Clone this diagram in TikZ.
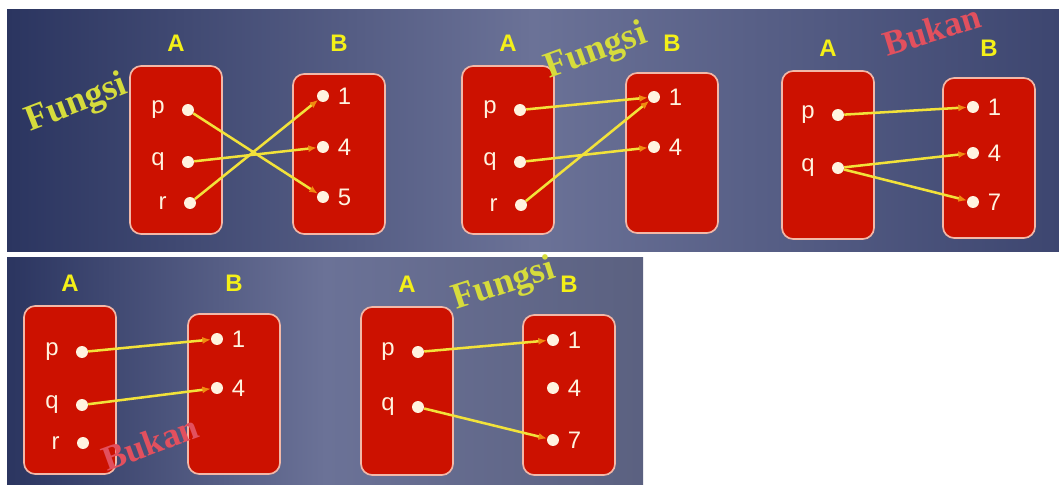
\documentclass[tikz,border=0pt]{standalone}
\usepackage{fontspec}
\setmainfont{Liberation Serif}
\setsansfont{Liberation Sans}
\usepackage{tikz}
\usetikzlibrary{positioning}
\usetikzlibrary{arrows.meta}
\definecolor{slatedark}{HTML}{2B3560}
\definecolor{slatemid}{HTML}{6B7297}
\definecolor{slateright}{HTML}{3D4670}
\definecolor{setred}{HTML}{CC1100}
\definecolor{setrim}{HTML}{F2B8A8}
\definecolor{mapyellow}{HTML}{F2E23A}
\definecolor{maporange}{HTML}{F08A10}
\definecolor{titleyellow}{HTML}{F4F018}
\definecolor{fungsigreen}{HTML}{D6DC3C}
\definecolor{bukanred}{HTML}{E2505E}
\definecolor{dotwhite}{HTML}{FFF3DF}
\tikzstyle{setA} = [rectangle, draw=setrim, fill=setred, line width=1.2pt, rounded corners=8pt, minimum width=2.3cm, minimum height=4.2cm]
\tikzstyle{setB} = [setA, minimum height=4.0cm]
\tikzstyle{setname} = [font=\sffamily\bfseries\fontsize{17}{17}\selectfont, text=titleyellow]
\tikzstyle{elem} = [circle, fill=dotwhite, inner sep=0pt, minimum size=8.5pt]
\tikzstyle{elemname} = [font=\sffamily\fontsize{17}{17}\selectfont, text=dotwhite, inner sep=1pt]
\tikzstyle{domname} = [elemname, xshift=-11pt]
\tikzstyle{codname} = [elemname, xshift=5pt]
\tikzstyle{map} = [draw=mapyellow, line width=1.8pt, -{Latex[length=6pt,width=5pt,color=maporange]}]
\tikzstyle{isfun} = [font=\bfseries\fontsize{26}{26}\selectfont, text=fungsigreen, inner sep=0pt]
\tikzstyle{notfun} = [font=\bfseries\fontsize{25}{25}\selectfont, text=bukanred, inner sep=0pt]

\begin{document}
\begin{tikzpicture}[x=0.025cm, y=-0.025cm]
	\useasboundingbox (0,0) rectangle (1059,485);

	% background panels
	\shade [left color=slatedark, right color=slateright, middle color=slatemid] (7,10) rectangle (1059,251);
	\shade [left color=slatedark, right color=slatemid!85!black, middle color=slatemid] (7,257) rectangle (643,485);

	% first diagram
	\node [setA] (A1) at (176,150) {};
	\node [setB] (B1) at (339,154) {};
	\node [setname, above=6pt of A1] (LA1) {A};
	\node [setname] (LB1) at (LA1 -| B1) {B};
	\node [elem, label={[domname]left:p}] (p1) at (188,110) {};
	\node [elem, label={[domname]left:q}] (q1) at (188,162) {};
	\node [elem, label={[domname]left:r}] (r1) at (190,203) {};
	\node [elem, label={[codname]right:1}] (one1) at (323,96) {};
	\node [elem, label={[codname]right:4}] (four1) at (323,147) {};
	\node [elem, label={[codname]right:5}] (five1) at (323,197) {};
	\node [isfun, rotate=21] (V1) at (77,104) {Fungsi};
	\path [map] (p1) -- (five1);
	\path [map] (q1) -- (four1);
	\path [map] (r1) -- (one1);

	% second diagram
	\node [setA] (A2) at (508,150) {};
	\node [setB] (B2) at (672,153) {};
	\node [setname, above=6pt of A2] (LA2) {A};
	\node [setname] (LB2) at (LA2 -| B2) {B};
	\node [elem, label={[domname]left:p}] (p2) at (520,110) {};
	\node [elem, label={[domname]left:q}] (q2) at (520,162) {};
	\node [elem, label={[domname]left:r}] (r2) at (521,205) {};
	\node [elem, label={[codname]right:1}] (one2) at (654,97) {};
	\node [elem, label={[codname]right:4}] (four2) at (654,147) {};
	\node [isfun, rotate=20] (V2) at (596,52) {Fungsi};
	\path [map] (p2) -- (one2);
	\path [map] (q2) -- (four2);
	\path [map] (r2) -- (one2);

	% third diagram
	\node [setA] (A3) at (828,155) {};
	\node [setB] (B3) at (989,158) {};
	\node [setname, above=6pt of A3] (LA3) {A};
	\node [setname] (LB3) at (LA3 -| B3) {B};
	\node [elem, label={[domname]left:p}] (p3) at (838,115) {};
	\node [elem, label={[domname]left:q}] (q3) at (838,168) {};
	\node [elem, label={[codname]right:1}] (one3) at (973,107) {};
	\node [elem, label={[codname]right:4}] (four3) at (973,153) {};
	\node [elem, label={[codname]right:7}] (seven3) at (973,202) {};
	\node [notfun, rotate=17] (V3) at (932,30) {Bukan};
	\path [map] (p3) -- (one3);
	\path [map] (q3) -- (four3);
	\path [map] (q3) -- (seven3);

	% fourth diagram
	\node [setA] (A4) at (70,390) {};
	\node [setB] (B4) at (234,394) {};
	\node [setname, above=6pt of A4] (LA4) {A};
	\node [setname] (LB4) at (LA4 -| B4) {B};
	\node [elem, label={[domname]left:p}] (p4) at (82,352) {};
	\node [elem, label={[domname]left:q}] (q4) at (82,405) {};
	\node [elem, label={[domname]left:r}] (r4) at (83,443) {};
	\node [elem, label={[codname]right:1}] (one4) at (217,339) {};
	\node [elem, label={[codname]right:4}] (four4) at (217,388) {};
	\node [notfun, rotate=20] (V4) at (150,443) {Bukan};
	\path [map] (p4) -- (one4);
	\path [map] (q4) -- (four4);

	% fifth diagram
	\node [setA] (A5) at (407,391) {};
	\node [setB] (B5) at (569,395) {};
	\node [setname, above=6pt of A5] (LA5) {A};
	\node [setname] (LB5) at (LA5 -| B5) {B};
	\node [elem, label={[domname]left:p}] (p5) at (418,352) {};
	\node [elem, label={[domname]left:q}] (q5) at (418,407) {};
	\node [elem, label={[codname]right:1}] (one5) at (553,340) {};
	\node [elem, label={[codname]right:4}] (four5) at (553,388) {};
	\node [elem, label={[codname]right:7}] (seven5) at (553,440) {};
	\node [isfun, rotate=18] (V5) at (504,285) {Fungsi};
	\path [map] (p5) -- (one5);
	\path [map] (q5) -- (seven5);
\end{tikzpicture}
\end{document}
